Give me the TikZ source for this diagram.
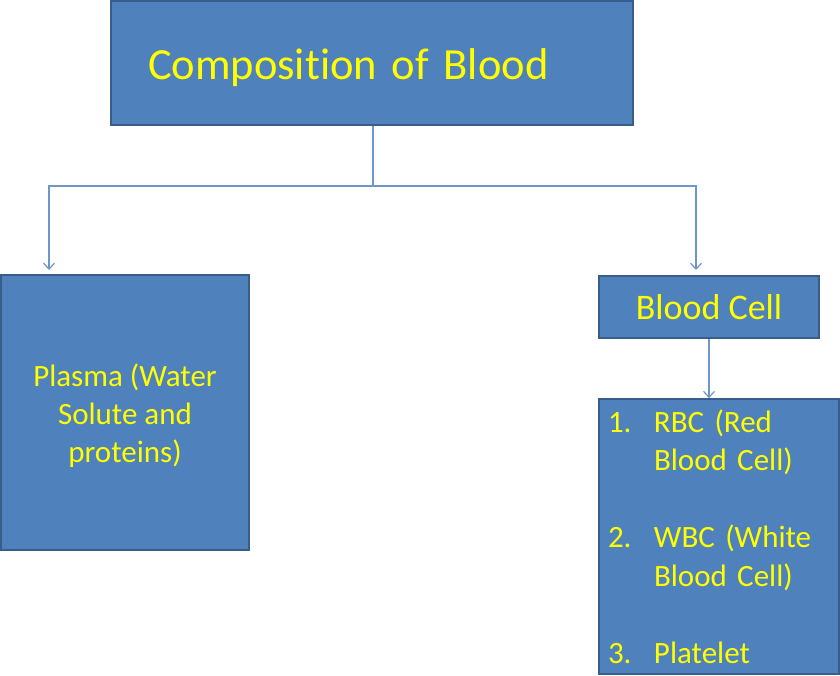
\documentclass[tikz,border=0pt]{standalone}
\usepackage{fontspec}
\setmainfont{Carlito}[Ligatures={NoCommon,NoRequired,NoContextual},Contextuals=NoAlternate]
\usetikzlibrary{arrows.meta,positioning}
\definecolor{BoxFill}{HTML}{4F81BD}
\definecolor{BoxLine}{HTML}{385D8A}
\definecolor{LinkColor}{HTML}{6F95C9}
\definecolor{TextYellow}{HTML}{FFFF00}

\begin{document}
\begin{tikzpicture}[x=1pt,y=-1pt,
  box/.style={draw=BoxLine,line width=1.6pt,fill=BoxFill,text=TextYellow,inner sep=0pt},
  link/.style={draw=LinkColor,line width=1.2pt},
  arr/.style={link,-{Straight Barb[length=6pt,width=11pt,line width=1.2pt]}}]
\useasboundingbox (0,0) rectangle (840,675);
\node[box,minimum width=522pt,minimum height=124pt,text width=448pt,align=left,
      font=\fontsize{44.5}{54}\selectfont] (title) at (372,63)
  {\raisebox{-5pt}[\height][\depth]{Composit\kern0pt ion of Blood}};
\node[box,minimum width=248pt,minimum height=275pt,
      font=\fontsize{31}{38}\selectfont] (plasma) at (125,412.5)
  {\raisebox{-4pt}[\height][\depth]{\begin{tabular}{@{}c@{}}Plasma (Water\\Solute and\\proteins)\end{tabular}}};
\node[box,minimum width=220pt,minimum height=62pt,align=center,
      font=\fontsize{36}{42}\selectfont] (bcell) at (709,307) {Blood Cell};
\node[box,minimum width=240pt,minimum height=275pt,text width=222pt,align=left,
      font=\fontsize{31}{38.5}\selectfont] (list) at (719,536.5)
  {\makebox[46pt][l]{1.}RBC (Red\\\hspace*{46pt}Blood Cell)\\\mbox{}\\
   \makebox[46pt][l]{2.}WBC (White\\\hspace*{46pt}Blood Cell)\\\mbox{}\\
   \makebox[46pt][l]{3.}Platelet};
% elbow connectors
\coordinate (bus) at (373,186);
\coordinate (toplasma) at (49,270);
\coordinate (tocell) at (696,270);
\draw[link] (title.south -| bus) -- (bus);
\draw[arr] (bus) -| (toplasma);
\draw[arr] (bus) -| (tocell);
\draw[arr] (bcell.south) -- (bcell.south |- list.north);
\end{tikzpicture}
\end{document}
